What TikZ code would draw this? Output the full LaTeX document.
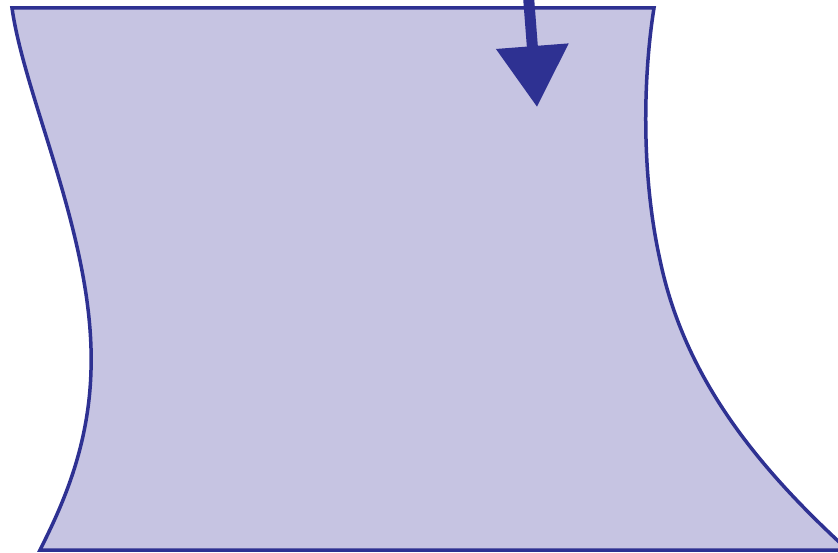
\documentclass[tikz,border=0pt]{standalone}
\usepackage{tikz}
\usetikzlibrary{arrows.meta}
\definecolor{edgeblue}{HTML}{2E3192}
\definecolor{fillblue}{HTML}{C6C4E2}

\begin{document}
\begin{tikzpicture}[
    x=1pt, y=-1pt,
    basin/.style={draw=edgeblue, fill=fillblue, line width=3.5pt, line join=miter},
    pointer/.style={draw=edgeblue, line width=11pt, -{Triangle[length=61pt, width=70pt]}}
]
\useasboundingbox (0,0) rectangle (838,553);
\clip (0,0) rectangle (838,553);
% curved sheet
\draw[basin] (12,8) -- (654,8)
    .. controls (644,70) and (640,170) .. (660,260)
    .. controls (685,380) and (760,470) .. (850,552)
    -- (850,550) -- (40,550)
    .. controls (60,510) and (89,450) .. (91,370)
    .. controls (95,240) and (25,100) .. cycle;
% arrow
\coordinate (top) at (528,-10);
\coordinate (tip) at (537,107);
\draw[pointer] (top) -- (tip);
\end{tikzpicture}
\end{document}
